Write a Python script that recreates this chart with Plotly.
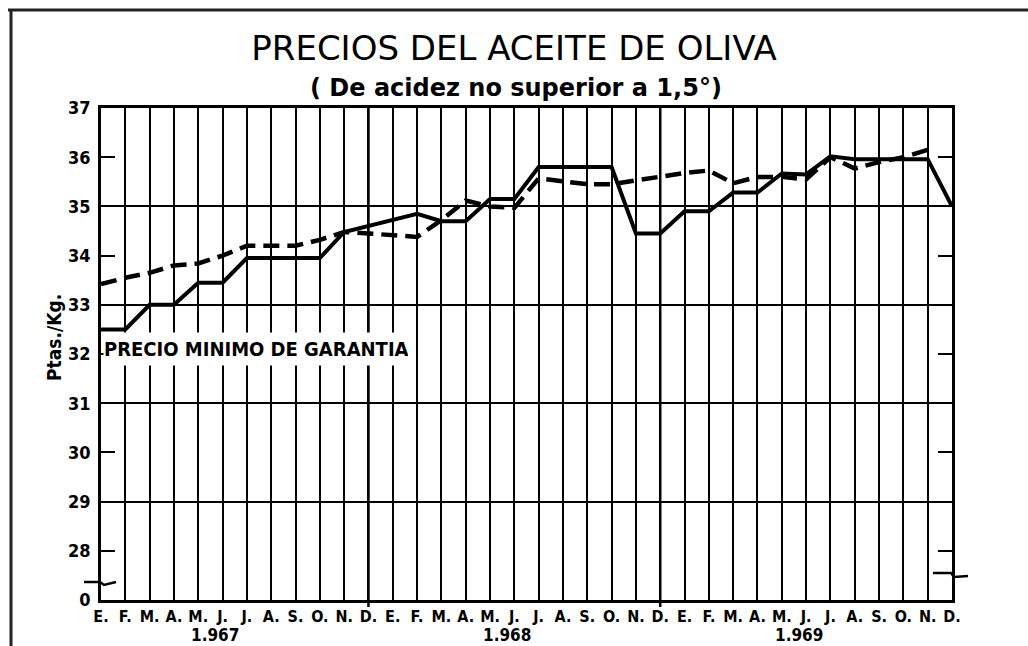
import plotly.graph_objects as go

# ---------------- data ----------------
month_labels = ["E.", "F.", "M.", "A.", "M.", "J.", "J.", "A.", "S.", "O.", "N.", "D."]
years = ["1.967", "1.968", "1.969"]
x_idx = list(range(len(month_labels) * len(years)))
x_text = month_labels * len(years)

# solid line: market price (Ptas./Kg.)
precio_mercado = [32.50, 32.50, 33.00, 33.00, 33.45, 33.45, 33.95, 33.95, 33.95, 33.95, 34.48, 34.60,
                  34.72, 34.85, 34.70, 34.70, 35.15, 35.15, 35.80, 35.80, 35.80, 35.80, 34.45, 34.45,
                  34.90, 34.90, 35.28, 35.28, 35.67, 35.65, 36.02, 35.96, 35.96, 35.96, 35.96, 35.00]
# dashed line: precio minimo de garantia
precio_garantia = [33.42, 33.55, 33.65, 33.80, 33.84, 34.00, 34.20, 34.20, 34.20, 34.32, 34.48, 34.45,
                   34.42, 34.38, 34.72, 35.12, 35.00, 34.97, 35.57, 35.50, 35.45, 35.45, 35.53, 35.60,
                   35.68, 35.73, 35.47, 35.60, 35.60, 35.55, 36.00, 35.77, 35.90, 36.00, 36.15]

y_tickvals = [27, 28, 29, 30, 31, 32, 33, 34, 35, 36, 37]
y_ticktext = ["0", "28", "29", "30", "31", "32", "33", "34", "35", "36", "37"]
y_gridvals = [29, 31, 33, 35]

title_text = "PRECIOS DEL ACEITE DE OLIVA"
subtitle_text = "( De acidez no superior a 1,5°)"
label_text = "PRECIO MINIMO DE GARANTIA"
y_title = "Ptas./Kg."

# ---------------- layout constants ----------------
W, H = 1028, 646
L, R, T, B = 101, 76, 108, 46
PW, PH = W - L - R, H - T - B
FONT = "DejaVu Sans Condensed, Liberation Sans Narrow, sans-serif"
FONT_W = "DejaVu Sans, Liberation Sans, sans-serif"


def px(xp):
    return (xp - L) / PW


def py(yp):
    return 1 - (yp - T) / PH


fig = go.Figure()
fig.add_trace(go.Scatter(x=x_idx[:len(precio_garantia)], y=precio_garantia, mode="lines",
                         line=dict(color="black", width=4.5, dash="16px,8px"),
                         showlegend=False, hoverinfo="skip"))
fig.add_trace(go.Scatter(x=x_idx, y=precio_mercado, mode="lines",
                         line=dict(color="black", width=4),
                         showlegend=False, hoverinfo="skip"))
# invisible trace on the overlay axis for the odd gridlines
fig.add_trace(go.Scatter(x=[x_idx[0]], y=[y_gridvals[0]], yaxis="y2", mode="markers",
                         marker=dict(opacity=0), showlegend=False, hoverinfo="skip"))

shapes = []
# frame lines of the page
shapes.append(dict(type="line", xref="paper", yref="paper", x0=px(8), x1=px(1028), y0=py(10), y1=py(10),
                   line=dict(color="#222", width=3)))
shapes.append(dict(type="line", xref="paper", yref="paper", x0=px(11), x1=px(11), y0=py(10), y1=py(646),
                   line=dict(color="#222", width=3)))
# thicker year-boundary lines at "D." months
for i, lab in enumerate(x_text[:-1]):
    if lab == "D.":
        shapes.append(dict(type="line", xref="x", yref="paper", x0=x_idx[i], x1=x_idx[i],
                           y0=py(607), y1=1, line=dict(color="black", width=2.5)))
# axis break marks
shapes.append(dict(type="path", xref="paper", yref="paper",
                   path=f"M {px(84)},{py(582)} L {px(100)},{py(582)} L {px(104)},{py(585)} L {px(116)},{py(582)}",
                   line=dict(color="black", width=2.5)))
shapes.append(dict(type="path", xref="paper", yref="paper",
                   path=f"M {px(933)},{py(573)} L {px(951)},{py(573)} L {px(954)},{py(577)} L {px(968)},{py(576)}",
                   line=dict(color="black", width=2.5)))

annotations = []
annotations.append(dict(text=subtitle_text, xref="paper", yref="paper", x=px(516), y=py(88),
                        showarrow=False, font=dict(family=FONT_W, size=24, color="black", weight="bold"),
                        xanchor="center", yanchor="middle"))
annotations.append(dict(text=label_text, xref="x", yref="y", x=x_idx[0], y=32.1, xshift=2,
                        xanchor="left", yanchor="middle", showarrow=False, bgcolor="white",
                        width=304, height=32, align="left", borderpad=0,
                        font=dict(family=FONT, size=20, color="black", weight="bold")))
annotations.append(dict(text=y_title, xref="paper", yref="paper", x=px(54), y=py(338),
                        textangle=-90, showarrow=False,
                        font=dict(family=FONT, size=19, color="black", weight="bold"),
                        xanchor="center", yanchor="middle"))
for k, yr in enumerate(years):
    annotations.append(dict(text=yr, xref="x", yref="paper", x=x_idx[12 * k] + 4.7, y=py(635),
                            showarrow=False, font=dict(family=FONT, size=17, color="black", weight="bold"),
                            xanchor="center", yanchor="middle"))

fig.update_layout(
    width=W, height=H,
    margin=dict(l=L, r=R, t=T, b=B),
    paper_bgcolor="white", plot_bgcolor="white",
    title=dict(text=title_text, x=0.5, xref="container", xanchor="center",
               y=1 - 48 / H, yanchor="middle",
               font=dict(family=FONT_W, size=34, color="black")),
    xaxis=dict(range=[x_idx[0], x_idx[-1]], tickvals=x_idx, ticktext=x_text, ticks="",
               showgrid=True, gridcolor="black", gridwidth=1.6, zeroline=False,
               showline=True, linecolor="black", linewidth=2.5, mirror=True,
               tickfont=dict(family=FONT, size=16, color="black", weight="bold")),
    yaxis=dict(range=[27, 37], tickvals=y_tickvals, ticktext=y_ticktext, ticks="inside",
               ticklen=14, tickwidth=1.6, tickcolor="black", showgrid=False, zeroline=False,
               showline=True, linecolor="black", linewidth=2.5, mirror="ticks",
               ticklabelstandoff=4,
               tickfont=dict(family=FONT, size=18, color="black", weight="bold")),
    yaxis2=dict(range=[27, 37], overlaying="y", tickvals=y_gridvals, showticklabels=False,
                showgrid=True, gridcolor="black", gridwidth=1.6, zeroline=False, ticks=""),
    shapes=shapes,
    annotations=annotations,
)

fig.write_html("out.html", config={"displayModeBar": False},
               post_script="document.body.style.margin='0';document.body.style.overflow='hidden';")
